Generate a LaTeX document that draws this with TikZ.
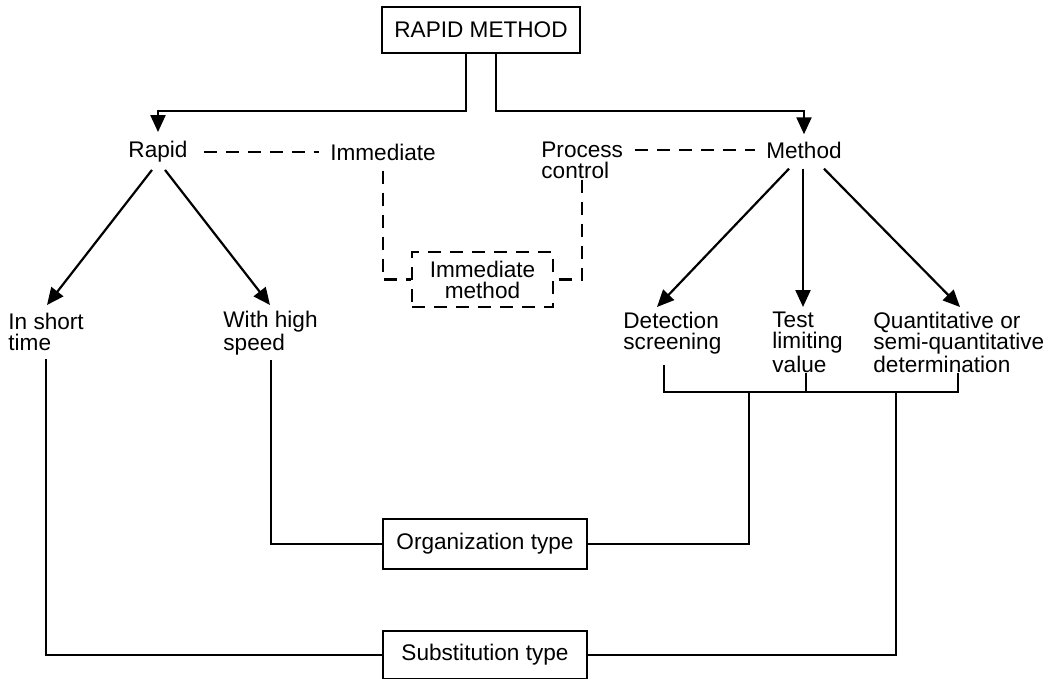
\documentclass[tikz,border=0pt]{standalone}
\usepackage{fontspec}
\setmainfont{Liberation Sans}
\usetikzlibrary{arrows.meta}
\begin{document}
\begin{tikzpicture}[x=0.5pt,y=-0.5pt,
  every node/.style={font=\fontsize{11.3}{10.5}\selectfont, inner sep=0pt},
  wire/.style={line width=1.1pt},
  box/.style={draw, line width=1.1pt},
  arr/.style={line width=1.1pt, -{Triangle[length=8.5pt,width=7.5pt]}},
  dsh/.style={line width=1.1pt, dash pattern=on 6.5pt off 4.5pt},
  lbl/.style={align=left, anchor=north west}
]
\fill[white] (0,0) rectangle (1059,679);
\useasboundingbox (0,0) rectangle (1059,679);

% top box and the two branches
\node[box, minimum width=99pt, minimum height=23pt] (rm) at (481,30) {RAPID METHOD};
\node (rapid) at (158,152) {Rapid};
\node (immed) at (383,152) {Immediate};
\node[lbl] (proc) at (541,142) {Process\\control};
\node (method) at (804,150) {Method};
\node[draw, dsh, align=center, minimum width=70.5pt, minimum height=27.5pt] (imb) at (482.5,279.5) {Immediate\\method};

% second level
\node[lbl] (short) at (8,313) {In short\\time};
\node[lbl] (high) at (223,311) {With high\\speed};
\node[lbl] (det) at (623,312) {Detection\\screening};
\node[lbl] (test) at (772,312) {Test\\limiting\\value};
\node[lbl] (quant) at (873,312) {Quantitative or\\semi-quantitative\\determination};

% type boxes
\node[box, minimum width=102pt, minimum height=25pt] (org) at (485,544) {Organization type};
\node[box, minimum width=102pt, minimum height=24pt] (sub) at (485,655) {Substitution type};

% arrow tips, line ends and joints
\coordinate (tShort) at (47,305);
\coordinate (tHigh) at (270,305);
\coordinate (tDet) at (657,307);
\coordinate (tTest) at (803,307);
\coordinate (tQuant) at (960,307);
\coordinate (sv) at (46,359);
\coordinate (hv) at (271,360);
\coordinate (bLt) at (664,365);
\coordinate (bMt) at (806,373);
\coordinate (bRt) at (958,373);
\coordinate (bL) at (664,392);
\coordinate (bM) at (806,392);
\coordinate (bR) at (958,392);
\coordinate (bO) at (749,392);
\coordinate (bS) at (896,392);

% split from the top box
\draw[arr] ([xshift=-7.5pt]rm.south) -- ++(0,57) -| ([yshift=4.5pt]rapid.north);
\draw[arr] ([xshift=7.5pt]rm.south) -- ++(0,57) -| ([yshift=3.5pt]method.north);

% dashed relations
\draw[dsh, shorten <=8pt, shorten >=5.5pt] (rapid.east) -- (immed.west);
\draw[dsh, shorten <=6pt, shorten >=5.5pt] (proc.east |- method.west) -- (method.west);
\draw[dsh, shorten <=5pt] (immed.south) |- (imb.west);
\draw[dsh] (proc.south) |- (imb.east);

% branches of Rapid and Method
\draw[arr] ([shift={(-6,7)}]rapid.south) -- (tShort);
\draw[arr] ([shift={(7,7)}]rapid.south) -- (tHigh);
\draw[arr] ([shift={(-15,10)}]method.south) -- (tDet);
\draw[arr] ([shift={(-1,10)}]method.south) -- (tTest);
\draw[arr] ([shift={(20,10)}]method.south) -- (tQuant);

% bracket under the method outcomes
\draw[wire] (bLt) -- (bL) -- (bR) -- (bRt);
\draw[wire] (bM) -- (bMt);

% joins to the type boxes
\draw[wire] (hv) |- (org.west);
\draw[wire] (org.east) -| (bO);
\draw[wire] (sv) |- (sub.west);
\draw[wire] (sub.east) -| (bS);
\end{tikzpicture}
\end{document}
